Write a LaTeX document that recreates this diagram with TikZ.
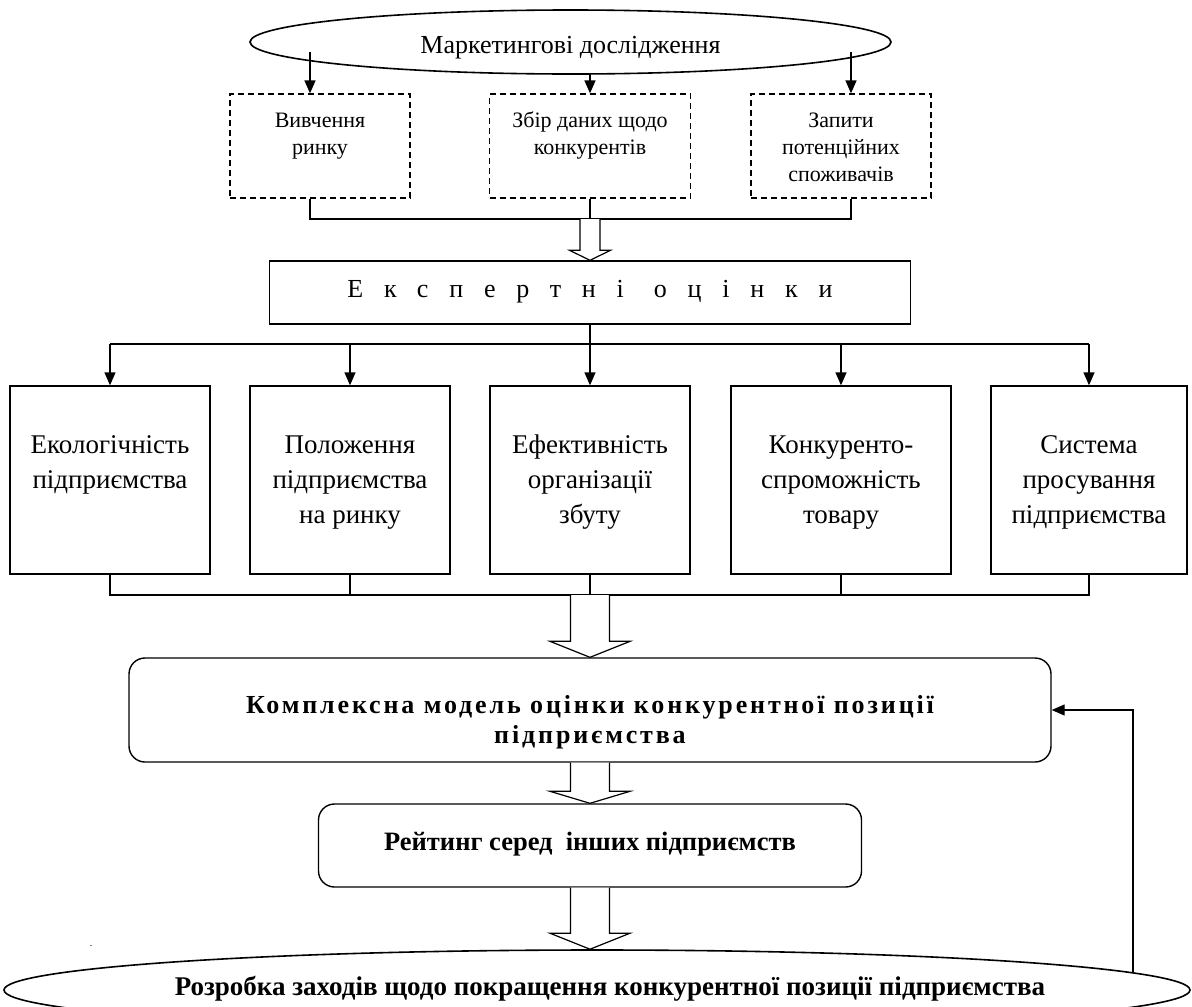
\documentclass[tikz,border=0pt]{standalone}
\usepackage{fontspec}
\setmainfont{Liberation Serif}
\newfontfamily\spacedfont[LetterSpace=80]{Liberation Serif}
\usetikzlibrary{arrows.meta,shapes.geometric}
\newcommand\fsz[2]{\fontsize{#1}{#2}\selectfont}
\newcommand\blockarrow[5]{%
  \draw[blk] ([xshift=-#3]#1) -- ([xshift=-#3,yshift=#5]#2) -- ([xshift=-#4,yshift=#5]#2) -- (#2)
    -- ([xshift=#4,yshift=#5]#2) -- ([xshift=#3,yshift=#5]#2) -- ([xshift=#3]#1);}
\begin{document}
\begin{tikzpicture}[x=1pt,y=-1pt,
  lw/.style={line width=1.4pt},
  arr/.style={line width=1.4pt,-{Triangle[length=13pt,width=11pt]}},
  blk/.style={line width=1.2pt,fill=white,line join=miter},
  ell/.style={draw,ellipse,line width=1.6pt,inner sep=0pt},
  dbox/.style={draw,line width=1.3pt,dash pattern=on 6pt off 4pt,inner sep=0pt,minimum width=#1,minimum height=104},
  sbox/.style={draw,line width=1.4pt,inner sep=0pt,minimum width=#1,minimum height=188},
  rbox/.style={draw,line width=1.4pt,rounded corners=16pt,inner sep=0pt},
  txt/.style={inner sep=0pt,align=center},
  small/.style={txt,anchor=north,font={\fsz{22}{27}}},
  mid/.style={txt,anchor=north,font={\fsz{27}{35}}},
  big/.style={txt,anchor=base,font={\fsz{26}{30}}}
]
\useasboundingbox (0,0) rectangle (1192,1007);
\clip (0,0) rectangle (1192,1007);

% top ellipse
\node[ell,minimum width=641,minimum height=64] (mk) at (570.5,42) {};
\node[big] (mkt) at (570.5,53) {Маркетингові дослідження};

% dashed boxes
\node[dbox=180] (d1) at (320,146) {};
\node[dbox=201] (d2) at (590,146) {};
\node[dbox=180] (d3) at (841,146) {};
\node[small] (d1t) at (320,108) {\strut Вивчення\\ринку};
\node[small] (d2t) at (590,108) {\strut Збір даних щодо\\конкурентів};
\node[small] (d3t) at (841,108) {\strut Запити\\потенційних\\споживачів};

\coordinate (x1) at (310,52);
\coordinate (x2) at (590,73);
\coordinate (x3) at (851,52);
\draw[arr] (x1) -- (x1 |- d1.north);
\draw[arr] (x2) -- (d2.north);
\draw[arr] (x3) -- (x3 |- d3.north);

\coordinate (ba) at (590,219);
\draw[lw] (x1 |- d1.south) -- (x1 |- ba) -- (x3 |- ba) -- (x3 |- d3.south);
\draw[lw] (d2.south) -- (ba);

% expert box
\node[draw,line width=1.4pt,inner sep=0pt,minimum width=641,minimum height=63] (exp) at (590,292.5) {};
\node[big,font={\fsz{26}{30}\spacedfont}] (expt) at (590,297) {\mbox{Експертні}\hspace{30pt}\mbox{оцінки}};
\blockarrow{ba}{exp.north}{10pt}{20.5pt}{10pt}

% five boxes
\node[sbox=200] (b1) at (110,480) {};
\node[sbox=200] (b2) at (350,480) {};
\node[sbox=200] (b3) at (590,480) {};
\node[sbox=220] (b4) at (841,480) {};
\node[sbox=196] (b5) at (1089,480) {};
\node[mid] (b1t) at (110,428.5) {\strut Екологічність\\підприємства};
\node[mid] (b2t) at (350,428.5) {\strut Положення\\підприємства\\на ринку};
\node[mid] (b3t) at (590,428.5) {\strut Ефективність\\організації\\збуту};
\node[mid] (b4t) at (841,428.5) {\strut Конкуренто-\\спроможність\\товару};
\node[mid] (b5t) at (1089,428.5) {\strut Система\\просування\\підприємства};

\coordinate (dist) at (590,344);
\draw[lw] (exp.south) -- (dist);
\draw[lw] (b1.north |- dist) -- (b5.north |- dist);
\foreach \b in {b1,b2,b3,b4,b5}{\draw[arr] (\b.north |- dist) -- (\b.north);}

\coordinate (brk) at (590,595);
\draw[lw] (b1.south) -- (b1.south |- brk) -- (b5.south |- brk) -- (b5.south);
\foreach \b in {b2,b3,b4}{\draw[lw] (\b.south) -- (\b.south |- brk);}

% complex model box
\node[rbox,minimum width=922,minimum height=104] (kom) at (590,710) {};
\node[txt,anchor=north,font={\fsz{26}{30}\bfseries\addfontfeatures{LetterSpace=11}}] (komt) at (590,692)
  {\strut Комплексна модель оцінки конкурентної позиції\\підприємства};
\blockarrow{brk}{kom.north}{19.5pt}{40pt}{16pt}

% rating box
\node[rbox,minimum width=543,minimum height=83] (rat) at (590,845.5) {};
\node[big,font={\fsz{26.5}{30}\bfseries}] (ratt) at (590,850) {Рейтинг серед\ \ інших підприємств};
\blockarrow{kom.south}{rat.north}{19.5pt}{40pt}{12pt}

% bottom ellipse
\node[ell,minimum width=1186,minimum height=80] (bot) at (597,990) {};
\node[big,font={\fsz{27}{30}\bfseries}] (bott) at (610,995) {Розробка заходів щодо покращення конкурентної позиції підприємства};
\coordinate (a4) at (rat.south |- bot.north);
\blockarrow{rat.south}{a4}{19.5pt}{40pt}{16pt}

\node[inner sep=0pt,font={\fsz{10}{12}}] (dot) at (91,946) {.};

% feedback
\coordinate (fb) at (1133,973);
\draw[arr] (fb) |- (kom.east);
\end{tikzpicture}
\end{document}
